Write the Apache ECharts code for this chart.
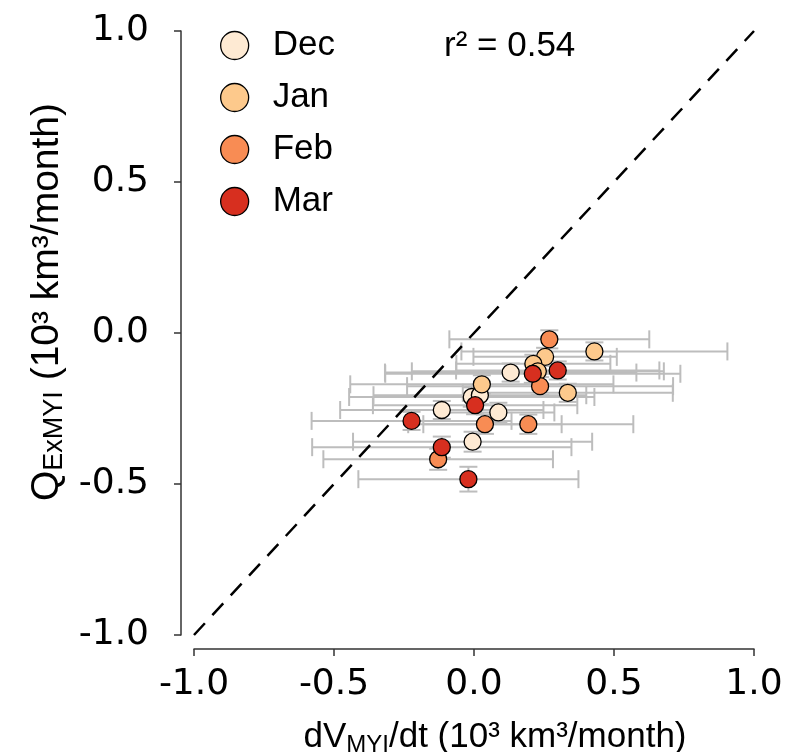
<!DOCTYPE html>
<html>
<head>
<meta charset="utf-8">
<script src="https://cdn.jsdelivr.net/npm/echarts@6/dist/echarts.min.js"></script>
<style>
html,body{margin:0;padding:0;background:#fff;}
#chart{width:785px;height:752px;}
</style>
</head>
<body>
<div id="chart"></div>
<script>
// ---- data ----
const months = ['Dec', 'Jan', 'Feb', 'Mar'];
const monthColors = ['#feead3', '#fdc98c', '#f88c54', '#d72f1f'];

const decX    = [0.131, -0.008, 0.021, 0.087, -0.115, -0.005];
const decY    = [-0.131, -0.212, -0.206, -0.263, -0.255, -0.360];
const decXErr = [0.449, 0.438, 0.380, 0.200, 0.363, 0.427];
const decYErr = [0.030, 0.032, 0.030, 0.032, 0.030, 0.033];

const janX    = [0.430, 0.254, 0.212, 0.228, 0.335, 0.028];
const janY    = [-0.061, -0.079, -0.102, -0.127, -0.198, -0.170];
const janXErr = [0.475, 0.256, 0.275, 0.450, 0.375, 0.470];
const janYErr = [0.030, 0.030, 0.030, 0.030, 0.030, 0.030];

const febX    = [0.269, 0.236, 0.039, 0.194, -0.128];
const febY    = [-0.021, -0.176, -0.302, -0.302, -0.418];
const febXErr = [0.357, 0.475, 0.274, 0.375, 0.410];
const febYErr = [0.030, 0.030, 0.032, 0.032, 0.035];

const marX    = [0.210, 0.299, 0.004, -0.223, -0.115, -0.020];
const marY    = [-0.135, -0.124, -0.239, -0.291, -0.378, -0.484];
const marXErr = [0.527, 0.363, 0.365, 0.357, 0.463, 0.393];
const marYErr = [0.030, 0.030, 0.030, 0.030, 0.035, 0.041];

const oneToOne = [-1, 1];
const xTicks = [-1.0, -0.5, 0.0, 0.5, 1.0];
const yTicks = [-1.0, -0.5, 0.0, 0.5, 1.0];
const r2Text = 'r² = 0.54';

// ---- build ----
const monthX = [decX, janX, febX, marX];
const monthY = [decY, janY, febY, marY];
const monthXErr = [decXErr, janXErr, febXErr, marXErr];
const monthYErr = [decYErr, janYErr, febYErr, marYErr];

const CAP = 9;
function renderErr(params, api) {
  const x = api.value(0), y = api.value(1), xe = api.value(2), ye = api.value(3);
  const l = api.coord([x - xe, y]), r = api.coord([x + xe, y]);
  const b = api.coord([x, y - ye]), t = api.coord([x, y + ye]);
  const st = {stroke: '#bdbdbd', lineWidth: 2, fill: null};
  return {
    type: 'group',
    children: [
      {type: 'line', shape: {x1: l[0], y1: l[1], x2: r[0], y2: r[1]}, style: st},
      {type: 'line', shape: {x1: l[0], y1: l[1] - CAP, x2: l[0], y2: l[1] + CAP}, style: st},
      {type: 'line', shape: {x1: r[0], y1: r[1] - CAP, x2: r[0], y2: r[1] + CAP}, style: st},
      {type: 'line', shape: {x1: b[0], y1: b[1], x2: t[0], y2: t[1]}, style: st},
      {type: 'line', shape: {x1: b[0] - CAP, y1: b[1], x2: b[0] + CAP, y2: b[1]}, style: st},
      {type: 'line', shape: {x1: t[0] - CAP, y1: t[1], x2: t[0] + CAP, y2: t[1]}, style: st}
    ]
  };
}

const errData = [];
months.forEach((m, i) => {
  monthX[i].forEach((v, j) => errData.push([v, monthY[i][j], monthXErr[i][j], monthYErr[i][j]]));
});

const series = [
  {
    type: 'custom', name: 'err', renderItem: renderErr, data: errData, z: 1, silent: true,
    encode: {x: 0, y: 1}
  },
  {
    type: 'line', name: '1:1', data: [[oneToOne[0], oneToOne[0]], [oneToOne[1], oneToOne[1]]],
    showSymbol: false, symbol: 'none', z: 2, silent: true,
    lineStyle: {color: '#000', width: 2.5, type: [16, 11]}
  }
];
months.forEach((m, i) => {
  series.push({
    type: 'scatter', name: m,
    data: monthX[i].map((v, j) => [v, monthY[i][j]]),
    symbol: 'circle', symbolSize: 17, z: 3 + i,
    itemStyle: {color: monthColors[i], borderColor: '#000', borderWidth: 1.3, opacity: 1}
  });
});

const chart = echarts.init(document.getElementById('chart'), null, {renderer: 'canvas'});
chart.setOption({
  animation: false,
  backgroundColor: '#fff',
  grid: {left: 194, right: 31, top: 31, bottom: 117, containLabel: false, outerBoundsMode: 'none'},
  title: {
    text: r2Text, left: 439, top: 24,
    textStyle: {fontFamily: 'Liberation Sans', fontSize: 35, fontWeight: 'normal', color: '#000'}
  },
  legend: {
    data: months, orient: 'vertical', left: 215, top: 23,
    itemWidth: 28, itemHeight: 28, itemGap: 17, icon: 'circle',
    itemStyle: {borderColor: '#000', borderWidth: 1.3},
    textStyle: {fontFamily: 'Liberation Sans', fontSize: 35, color: '#000', lineHeight: 34, padding: [0, 0, 0, 19]}
  },
  xAxis: {
    type: 'value', min: xTicks[0], max: xTicks[xTicks.length - 1], interval: 0.5,
    offset: 14,
    splitLine: {show: false},
    axisLine: {show: true, onZero: false, lineStyle: {color: '#333', width: 1.5}},
    axisTick: {show: true, inside: false, length: 7, lineStyle: {color: '#333', width: 1.5}},
    axisLabel: {
      margin: 18, fontFamily: 'DejaVu Sans', fontSize: 36, color: '#000',
      formatter: v => v.toFixed(1)
    },
    name: '{a|dV}{s|MYI}{a|/dt (10³ km³/month)}',
    nameLocation: 'middle', nameGap: 68,
    nameTextStyle: {
      padding: [0, 0, 0, 42],
      rich: {
        a: {fontFamily: 'Liberation Sans', fontSize: 35, color: '#000', lineHeight: 40},
        s: {fontFamily: 'Liberation Sans', fontSize: 24, color: '#000', lineHeight: 22, verticalAlign: 'bottom'}
      }
    }
  },
  yAxis: {
    type: 'value', min: yTicks[0], max: yTicks[yTicks.length - 1], interval: 0.5,
    offset: 13,
    splitLine: {show: false},
    axisLine: {show: true, onZero: false, lineStyle: {color: '#333', width: 1.5}},
    axisTick: {show: true, inside: false, length: 7, lineStyle: {color: '#333', width: 1.5}},
    axisLabel: {
      margin: 32, fontFamily: 'DejaVu Sans', fontSize: 36, color: '#000',
      formatter: v => v.toFixed(1)
    },
    name: '{a|Q}{s|ExMYI}{a| (10³ km³/month)}',
    nameLocation: 'middle', nameGap: 113, nameRotate: 90,
    nameTextStyle: {
      padding: [0, 0, 0, 62],
      rich: {
        a: {fontFamily: 'Liberation Sans', fontSize: 39, color: '#000', lineHeight: 42},
        s: {fontFamily: 'Liberation Sans', fontSize: 27, color: '#000', lineHeight: 22, verticalAlign: 'bottom'}
      }
    }
  },
  series: series
});
</script>
</body>
</html>
